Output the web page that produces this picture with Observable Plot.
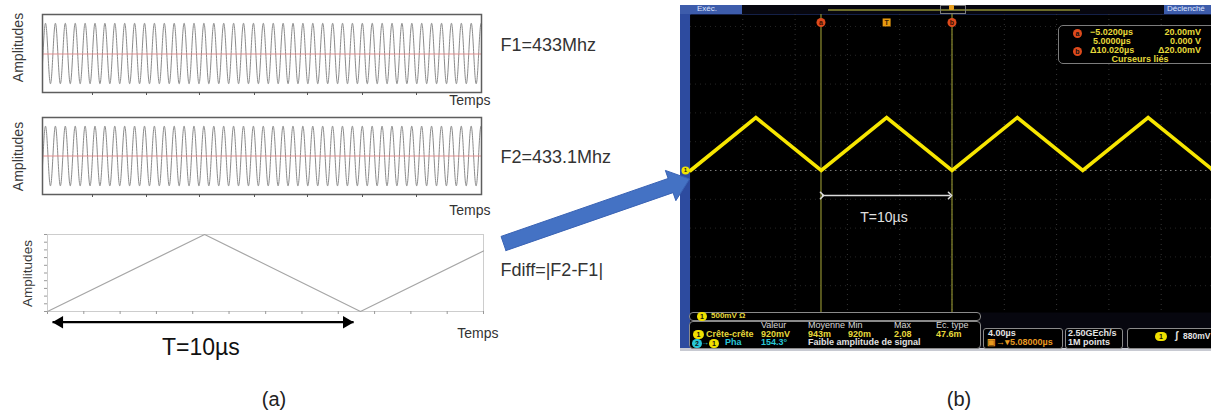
<!DOCTYPE html>
<html><head><meta charset="utf-8">
<script src="https://cdn.jsdelivr.net/npm/d3@7"></script>
<script src="https://cdn.jsdelivr.net/npm/@observablehq/plot@0.6"></script>
<style>
html,body{margin:0;padding:0;background:#fff;overflow:hidden;}
#fig{position:relative;width:1211px;height:416px;overflow:hidden;font-family:"Liberation Sans",Arial,sans-serif;}
#fig svg{position:absolute;}
.t{position:absolute;white-space:nowrap;font-family:"Liberation Sans",Arial,sans-serif;}
.bx{position:absolute;box-sizing:border-box;}
</style></head><body><div id="fig"></div>
<script>
// ---------------- data ----------------
// (a) carriers
const carrierFreqGHz = [0.433, 0.4331];
const carrierLabels = ["F1=433Mhz", "F2=433.1Mhz"];
const carrierWindowNs = [0, 102.4];
const carrierPhaseNs = 0.7;
const carrierTicksNs = [11.66, 24.26, 36.62, 49.45, 61.81, 74.64, 87.24];
// (a) beat / difference signal (triangle)
const diffLabel = "Fdiff=|F2-F1|";
const diffTimesUs = [0, 5.02, 10.0, 13.93];
const diffAmp = [0, 1, 0, 0.786];
const diffTicksUs = [0, 1.16, 2.32, 3.48, 4.64, 5.8, 6.97, 8.13, 9.29, 10.45, 11.61, 12.77, 13.93];
const diffAmpTicks = [0, 0.1, 0.2, 0.3, 0.4, 0.5, 0.6, 0.7, 0.8, 0.9, 1];
const periodLabel = "T=10µs";
const periodArrowUs = [0.16, 9.78];
// (b) oscilloscope
const scopeTimesUs = [-15, -10, -5, 0, 5, 10, 15, 20, 25];
const scopeVolts = [0, 0.92, 0, 0.92, 0, 0.92, 0, 0.92, 0];
const cursorTimesUs = [-5.02, 5.0];
const cursorNames = ["a", "b"];
const triggerTimeUs = [0];
const gridTimesUs = [-11, -7, -3, 1, 5, 9, 13, 17, 21];
const gridVolts = [-2, -1.5, -1, -0.5, 0.5, 1, 1.5, 2, 2.5];
const scopeArrowUs = [-4.94, 4.85];
const cursorReadout = [["−5.0200µs", "20.00mV"], ["5.0000µs", "0.000 V"], ["Δ10.020µs", "Δ20.00mV"]];
const measureHeaders = ["Valeur", "Moyenne", "Min", "Max", "Ec. type"];
const measureRow = ["920mV", "943m", "920m", "2.08", "47.6m"];

const fig = document.getElementById("fig");
const FONT = "Liberation Sans, Arial, sans-serif";

function place(svg, left, top) {
  svg.style.left = left + "px"; svg.style.top = top + "px";
  fig.appendChild(svg);
}

// ---------- carrier panels ----------
function carrierPanel(f, label, o) {
  const pts = d3.range(carrierWindowNs[0], carrierWindowNs[1] + 1e-9, 0.04)
    .map(t => ({t, v: Math.cos(2 * Math.PI * f * (t - carrierPhaseNs))}));
  return Plot.plot({
    width: 640, height: 112,
    marginLeft: 42, marginRight: 159, marginTop: 14, marginBottom: o.mb,
    x: {domain: carrierWindowNs, axis: null},
    y: {domain: [-1.29, 1.29], axis: null},
    style: {background: "transparent", overflow: "visible", fontFamily: FONT},
    marks: [
      Plot.line(pts, {x: "t", y: "v", stroke: "#8a8a8a", strokeWidth: 1}),
      Plot.ruleY([0], {stroke: "#e38585", strokeWidth: 1, strokeOpacity: 0.9, dy: o.rdy}),
      Plot.frame({stroke: "#5e5e5e", strokeWidth: 1.5}),
      Plot.axisX(carrierTicksNs, {tickSize: 3, tickFormat: () => "", stroke: "#555", label: null}),
      Plot.text(["Amplitudes"], {frameAnchor: "left", rotate: -90, textAnchor: "middle", lineAnchor: "middle", dx: -24, dy: o.ady, fontSize: 14, fill: "#3a3a3a"}),
      Plot.text(["Temps"], {frameAnchor: "bottom-right", textAnchor: "end", lineAnchor: "middle", dx: 9, dy: o.tdy, fontSize: 14, fill: "#333"}),
      Plot.text([label], {frameAnchor: "right", textAnchor: "start", lineAnchor: "middle", dx: 19, dy: o.ldy, fontSize: 18, fill: "#333"})
    ]
  });
}
place(carrierPanel(carrierFreqGHz[0], carrierLabels[0], {mb: 20, ady: -6, tdy: 8, ldy: -8, rdy: 0.5}), 0, 0);
place(carrierPanel(carrierFreqGHz[1], carrierLabels[1], {mb: 21, ady: 0.5, tdy: 16, ldy: 1.5, rdy: 0}), 0, 103);

// ---------- difference panel ----------
const diffPts = diffTimesUs.map((t, i) => ({t, v: diffAmp[i]}));
const yArrow = -0.139, yPeriodText = -0.47;
place(Plot.plot({
  width: 640, height: 140,
  marginLeft: 47, marginRight: 157, marginTop: 12, marginBottom: 51,
  x: {domain: [diffTimesUs[0], diffTimesUs[diffTimesUs.length - 1]], axis: null},
  y: {domain: [0, 1], axis: null},
  style: {background: "transparent", overflow: "visible", fontFamily: FONT},
  marks: [
    Plot.frame({stroke: "#cdcdcd", strokeWidth: 1}),
    Plot.axisX(diffTicksUs, {tickSize: 3, tickFormat: () => "", stroke: "#999", label: null}),
    Plot.axisY(diffAmpTicks, {tickSize: 3, tickFormat: () => "", stroke: "#999", label: null}),
    Plot.line(diffPts, {x: "t", y: "v", stroke: "#a6a6a6", strokeWidth: 1.2}),
    Plot.link([periodArrowUs], {x1: d => d[0], x2: d => d[1], y1: () => yArrow, y2: () => yArrow, stroke: "#000", strokeWidth: 2.2}),
    Plot.dot([periodArrowUs[0]], {x: d => d, y: () => yArrow, symbol: "triangle", r: 4.6, rotate: -90, dx: 7, fill: "#000", stroke: null}),
    Plot.dot([periodArrowUs[1]], {x: d => d, y: () => yArrow, symbol: "triangle", r: 4.6, rotate: 90, dx: -7, fill: "#000", stroke: null}),
    Plot.text([periodLabel], {x: () => 4.9, y: () => yPeriodText, fontSize: 23, fill: "#111"}),
    Plot.text(["Amplitudes"], {frameAnchor: "left", rotate: -90, textAnchor: "middle", lineAnchor: "middle", dx: -20, dy: 0.5, fontSize: 13.5, fill: "#3a3a3a"}),
    Plot.text(["Temps"], {frameAnchor: "bottom-right", textAnchor: "end", lineAnchor: "middle", dx: 15, dy: 22, fontSize: 14, fill: "#333"}),
    Plot.text([diffLabel], {frameAnchor: "right", textAnchor: "start", lineAnchor: "middle", dx: 17, dy: -2.5, fontSize: 18, fill: "#333"})
  ]
}), 0, 222);

// ---------- oscilloscope chrome (HTML) ----------
function box(l, t, w, h, css) {
  const d = document.createElement("div"); d.className = "bx";
  Object.assign(d.style, {left: l + "px", top: t + "px", width: w + "px", height: h + "px"}, css || {});
  fig.appendChild(d); return d;
}
function txt(s, x, cy, o = {}) {
  const size = o.size || 9;
  const d = document.createElement("div"); d.className = "t"; d.textContent = s;
  Object.assign(d.style, {fontSize: size + "px", lineHeight: size + "px", color: o.color || "#e6d83a",
    fontWeight: o.weight || "bold", top: (cy - size * 0.55) + "px"});
  if (o.anchor === "end") d.style.right = (1211 - x) + "px";
  else if (o.anchor === "middle") { d.style.left = x + "px"; d.style.transform = "translateX(-50%)"; }
  else d.style.left = x + "px";
  fig.appendChild(d); return d;
}
function pill(s, x, cy, w, color, round) {
  const d = box(x, cy - 4.5, w, 9, {background: color, borderRadius: round ? "50%" : "4.5px", color: "#111",
    fontSize: "7px", fontWeight: "bold", lineHeight: "9px", textAlign: "center", fontFamily: FONT});
  d.textContent = s; return d;
}
box(680, 5, 531, 346, {background: "#07070f"});
box(680, 14, 10, 334, {background: "#2d4b9f"});
box(690, 14, 521, 1, {background: "#28408e"});
box(680, 5, 62, 9, {background: "#3d5cab"});
txt("Exéc.", 697, 9.5, {size: 8, color: "#dfe6ff", weight: "normal"});
box(1164, 5, 47, 9, {background: "#3d5cab"});
txt("Déclenché", 1167, 9.5, {size: 8, color: "#dfe6ff", weight: "normal"});
box(828, 9, 252, 1.5, {background: "#6c6c2a"});
box(940, 5, 26, 9, {border: "1px solid #7d7d7d"});
box(949, 5, 5, 5, {background: "#e8a020", borderRadius: "1px"});
box(680, 348, 531, 3, {background: "#c8cad2"});

// ---------- oscilloscope screen (Plot) ----------
const scopePts = scopeTimesUs.map((t, i) => ({t, v: scopeVolts[i]}));
const yMarker = 2.57;
place(Plot.plot({
  width: 533, height: 298,
  marginLeft: 10, marginRight: 0, marginTop: 0, marginBottom: 0,
  x: {domain: [-15, 25], axis: null},
  y: {domain: [-2.465, 2.708], axis: null},
  style: {background: "transparent", overflow: "visible", fontFamily: FONT},
  marks: [
    Plot.frame({fill: "#000", stroke: null}),
    Plot.ruleX(gridTimesUs, {stroke: "#353535", strokeDasharray: "1,4"}),
    Plot.ruleY(gridVolts, {stroke: "#262626", strokeDasharray: "1,4"}),
    Plot.ruleY([0], {stroke: "#7a7a7a", strokeDasharray: "1.5,3.5"}),
    Plot.ruleX(cursorTimesUs, {stroke: "#8e8e30", strokeWidth: 1.2}),
    Plot.line(scopePts, {x: "t", y: "v", stroke: "#f7e600", strokeWidth: 3.6, strokeLinejoin: "miter", strokeMiterlimit: 4}),
    Plot.link([scopeArrowUs], {x1: d => d[0], x2: d => d[1], y1: () => -0.434, y2: () => -0.434, stroke: "#dcdcdc", strokeWidth: 1.6, markerStart: "arrow", markerEnd: "arrow"}),
    Plot.text([periodLabel], {x: () => -0.2, y: () => -0.816, fontSize: 14, fill: "#e0e0e0"}),
    Plot.dot(cursorTimesUs, {x: d => d, y: () => yMarker, r: 4.5, fill: "#de4a1c", stroke: null}),
    Plot.text(cursorTimesUs, {x: d => d, y: () => yMarker, text: (d, i) => cursorNames[i], fontSize: 7, fontWeight: "bold", fill: "#3a1000"}),
    Plot.dot(triggerTimeUs, {x: d => d, y: () => yMarker, r: 4.5, symbol: "square", fill: "#e89a10", stroke: null}),
    Plot.text(triggerTimeUs, {x: d => d, y: () => yMarker, text: () => "T", fontSize: 7, fontWeight: "bold", fill: "#3a2000"}),
    Plot.dot([scopeTimesUs[0]], {x: d => d, y: () => 0, r: 4, dx: -5, fill: "#f2e400", stroke: null}),
    Plot.text([scopeTimesUs[0]], {x: d => d, y: () => 0, dx: -5, text: () => "1", fontSize: 6, fontWeight: "bold", fill: "#222"})
  ]
}), 680, 14);

// cursor readout box
box(1058, 25, 160, 39, {border: "1.5px solid #7c7c7c", borderRadius: "5px", background: "#000"});
pill("a", 1073, 33, 9, "#de4a1c", true);
pill("b", 1073, 51, 9, "#de4a1c", true);
const rowY = [33, 42, 51];
cursorReadout.forEach((r, i) => {
  txt(r[0], i === 1 ? 1093 : 1090, rowY[i], {size: 9});
  txt(r[1], 1201, rowY[i], {size: 9, anchor: "end"});
});
txt("Curseurs liés", 1140, 59.5, {size: 9, anchor: "middle"});

// bottom bars
box(689, 312, 292, 9, {border: "1px solid #8a8a8a", borderRadius: "4px", background: "#000"});
pill("1", 697, 316.5, 10, "#f0e000");
txt("500mV Ω", 711, 316.5, {size: 8});
box(689, 321, 292, 28, {border: "1px solid #8a8a8a", borderRadius: "4px", background: "#000"});
const colX = [761, 808, 848, 894, 936];
measureHeaders.forEach((h, i) => txt(h, colX[i], 326, {size: 9, color: "#d6d6d6", weight: "normal"}));
pill("1", 693, 334.5, 11, "#f0e000");
txt("Crête-crête", 706, 334.5, {size: 9});
measureRow.forEach((v, i) => txt(v, colX[i], 334.5, {size: 9}));
pill("2", 692, 343, 10, "#28c8d8");
txt("→", 701, 343, {size: 8, color: "#28c8d8"});
pill("1", 709, 343, 10, "#f0e000");
txt("Pha", 725, 343, {size: 9, color: "#28c8d8"});
txt("154.3°", 761, 343, {size: 9, color: "#28c8d8"});
txt("Faible amplitude de signal", 808, 343, {size: 9, color: "#e0e0e0"});

box(983, 328, 80, 21, {border: "1px solid #8a8a8a", borderRadius: "3px", background: "#000"});
txt("4.00µs", 988, 333.5, {size: 9, color: "#e4e4e4"});
txt("▣→▾5.08000µs", 987, 343, {size: 9, color: "#e89a20"});
box(1065, 328, 58, 21, {border: "1px solid #8a8a8a", borderRadius: "3px", background: "#000"});
txt("2.50GEch/s", 1068, 333.5, {size: 9, color: "#e4e4e4"});
txt("1M points", 1068, 343, {size: 9, color: "#e4e4e4"});
box(1127, 328, 90, 21, {border: "1px solid #8a8a8a", borderRadius: "3px", background: "#000"});
pill("1", 1155, 336.5, 12, "#f0e000");
txt("ʃ", 1175, 336.5, {size: 10, color: "#e4e4e4"});
txt("880mV", 1183, 336.5, {size: 8.5, color: "#e4e4e4"});

// ---------- captions ----------
txt("(a)", 274, 400, {size: 20, color: "#222", weight: "normal", anchor: "middle"});
txt("(b)", 959, 400, {size: 20, color: "#222", weight: "normal", anchor: "middle"});

// ---------- blue connector arrow (overlay plot in figure pixels) ----------
const blueArrow = {tail: [503, 243], tip: [689, 178.5], shaft: 15, headW: 32, headL: 20};
function arrowPolygon({tail, tip, shaft, headW, headL}) {
  const [x0, y0] = tail, [x1, y1] = tip;
  const L = Math.hypot(x1 - x0, y1 - y0), ux = (x1 - x0) / L, uy = (y1 - y0) / L, nx = -uy, ny = ux;
  const bx = x1 - ux * headL, by = y1 - uy * headL;
  const p = (x, y, s) => ({x: x + nx * s, y: y + ny * s});
  return [p(x0, y0, shaft / 2), p(bx, by, shaft / 2), p(bx, by, headW / 2), {x: x1, y: y1},
          p(bx, by, -headW / 2), p(bx, by, -shaft / 2), p(x0, y0, -shaft / 2), p(x0, y0, shaft / 2)];
}
const overlay = Plot.plot({
  width: 1211, height: 416, margin: 0,
  x: {domain: [0, 1211], range: [0, 1211], axis: null},
  y: {domain: [0, 416], range: [0, 416], axis: null},
  style: {background: "transparent", overflow: "visible", pointerEvents: "none"},
  marks: [Plot.line(arrowPolygon(blueArrow), {x: "x", y: "y", fill: "#4472c4", stroke: "#3a63b4", strokeWidth: 1, strokeLinejoin: "miter"})]
});
place(overlay, 0, 0);
</script></body></html>
